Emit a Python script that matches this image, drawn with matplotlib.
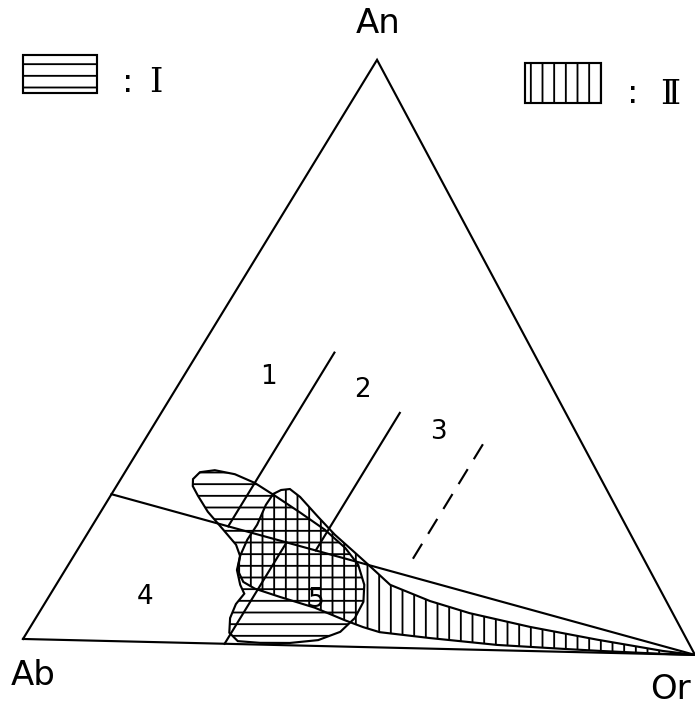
import numpy as np
import matplotlib
matplotlib.use('Agg')
import matplotlib.pyplot as plt
from matplotlib.patches import Polygon, Rectangle
from matplotlib.transforms import Affine2D

# Compositions in percent, Ab = 100 - An - Or

# two-feldspar boundary, Ab-An side to the Or corner
two_fsp_an = [25, 0]
two_fsp_or = [0, 100]

# field boundaries (lines of constant Or)
line_1_an = [50, 20]
line_1_or = [20, 20]
line_2_an = [40, 16.25]
line_2_or = [35, 35]
line_3_an = [35, 13.8]       # dashed
line_3_or = [50, 50]
line_45_an = [17.5, 0]
line_45_or = [30, 30]

# group I (horizontal hatch)
group_1_an = [27.9, 29.1, 29.5, 28.9, 27.5, 25.4, 22.7, 19.8, 16.8, 14.0, 10.6, 7.7,
              4.9, 2.5, 1.0, 0.4, 0.3, 0.5, 1.9, 4.4, 6.8, 8.6, 10.1, 12.6, 15.0,
              16.9, 19.7, 22.4, 25.1, 26.7]
group_1_or = [10.6, 11.0, 13.0, 16.3, 20.0, 24.1, 29.2, 34.5, 39.1, 42.5, 45.2, 46.6,
              46.8, 45.9, 43.4, 39.5, 35.1, 31.7, 29.7, 28.5, 28.1, 28.4, 27.0, 25.2,
              24.4, 22.8, 19.2, 15.7, 12.8, 11.2]

# group II (vertical hatch)
group_2_an = [26.4, 26.6, 25.3, 22.0, 19.0, 16.0, 13.5, 10.7, 8.1, 6.2, 4.1, 2.2, 0.55,
              0.0, 0.05, 0.3, 0.5, 0.9, 1.8, 2.6, 3.4, 4.5, 6.5, 8.2, 9.5, 10.6, 12.6,
              15.0, 17.8, 20.4, 23.8, 25.7]
group_2_or = [24.5, 25.7, 27.9, 32.3, 36.4, 41.0, 44.8, 49.0, 56.3, 63.2, 73.3, 84.3, 94.9,
              100.0, 95.2, 85.7, 80.1, 70.1, 59.6, 51.7, 48.8, 45.5, 40.0, 33.9, 29.5, 27.2,
              25.3, 24.4, 24.0, 24.1, 23.6, 23.7]

# field numbers
field_names = ['1', '2', '3', '4', '5']
field_an = [45.5, 43.8, 36.9, 7.6, 7.8]
field_or = [12.5, 27.4, 42.3, 14.1, 39.5]

corner_names = ['Ab', 'Or', 'An']
corner_an = [0, 0, 100]
corner_or = [0, 100, 0]


def to_xy(an, orth):
    """Ternary percent -> cartesian, Ab at origin, Or at (1, 0)"""
    an = np.asarray(an, dtype=float) / 100.0
    orth = np.asarray(orth, dtype=float) / 100.0
    return orth + an / 2.0, an * np.sqrt(3) / 2.0


plt.rcParams['hatch.linewidth'] = 1.9
plt.rcParams['lines.scale_dashes'] = False

DPI = 70
LW = 2.2
fig = plt.figure(figsize=(695 / DPI, 707 / DPI), dpi=DPI)
ax = fig.add_axes([0, 0, 1, 1])
ax.set_xlim(-0.0342, 0.9997)
ax.set_ylim(-0.1012, 0.9506)
ax.axis('off')

# the scanned sheet is slightly tilted and sheared
tilt = Affine2D().scale(1, 1.009).skew_deg(0.4, 0).rotate_deg(-1.36) + ax.transData

# triangle frame
fx, fy = to_xy(corner_an + corner_an[:1], corner_or + corner_or[:1])
ax.plot(fx, fy, color='black', lw=LW, transform=tilt, solid_joinstyle='miter')

# hatched groups
x1, y1 = to_xy(group_1_an, group_1_or)
ax.add_patch(Polygon(np.column_stack([x1, y1]), closed=True, fill=False,
                     hatch='-', edgecolor='black', lw=LW, transform=tilt))
x2, y2 = to_xy(group_2_an, group_2_or)
ax.add_patch(Polygon(np.column_stack([x2, y2]), closed=True, fill=False,
                     hatch='|', edgecolor='black', lw=LW, transform=tilt))

# boundary lines
for an, orth in [(two_fsp_an, two_fsp_or), (line_1_an, line_1_or),
                 (line_2_an, line_2_or), (line_45_an, line_45_or)]:
    lx, ly = to_xy(an, orth)
    ax.plot(lx, ly, color='black', lw=LW, transform=tilt)
lx, ly = to_xy(line_3_an, line_3_or)
ax.plot(lx, ly, color='black', lw=LW, transform=tilt, dashes=(18, 12))

# field numbers
for name, an, orth in zip(field_names, field_an, field_or):
    tx, ty = to_xy(an, orth)
    ax.text(tx, ty, name, transform=tilt, ha='center', va='center', fontsize=27)

# corner labels
offsets = [(10, -38), (-25, -36), (1, 37)]
for name, an, orth, off in zip(corner_names, corner_an, corner_or, offsets):
    cx, cy = to_xy(an, orth)
    ax.annotate(name, xy=(cx, cy), xycoords=tilt, xytext=off,
                textcoords='offset points', ha='center', va='center', fontsize=35)

# legend boxes
ax.add_patch(Rectangle((23 / 695, 1 - 93 / 707), 74 / 695, 38 / 707, transform=ax.transAxes,
                       fill=False, hatch='-', lw=LW))
ax.text(128 / 695, 1 - 92 / 707, ':', transform=ax.transAxes, ha='center',
        va='baseline', fontsize=35)
ax.text(156 / 695, 1 - 92 / 707, '\u2160', transform=ax.transAxes, ha='center',
        va='baseline', fontsize=35, family='DejaVu Serif')

ax.add_patch(Rectangle((525 / 695, 1 - 103 / 707), 76 / 695, 40 / 707, transform=ax.transAxes,
                       fill=False, hatch='|', lw=LW))
ax.text(633 / 695, 1 - 103 / 707, ':', transform=ax.transAxes, ha='center',
        va='baseline', fontsize=35)
ax.text(670 / 695, 1 - 104 / 707, '\u2161', transform=ax.transAxes, ha='center',
        va='baseline', fontsize=35, family='DejaVu Serif')

fig.savefig('out.png', dpi=DPI)
